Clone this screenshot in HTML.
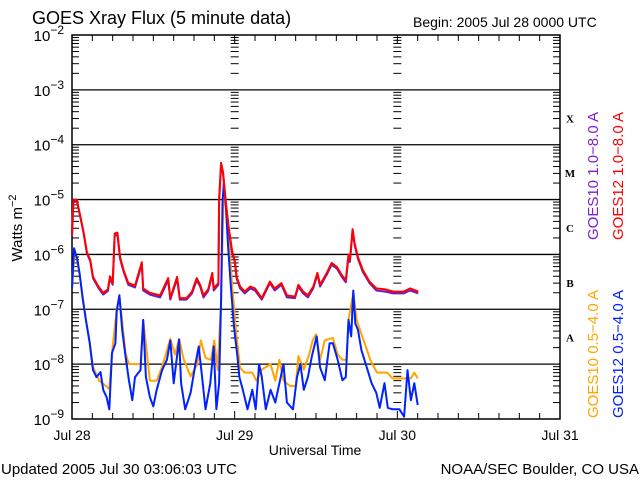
<!DOCTYPE html>
<html><head><meta charset="utf-8"><style>
body{margin:0;background:#fff;}
svg{display:block;font-family:"Liberation Sans",sans-serif;}
</style></head><body>
<svg id="chart" width="640" height="480" viewBox="0 0 640 480" xmlns="http://www.w3.org/2000/svg">
<rect width="640" height="480" fill="#fff"/>
<text x="32" y="24" font-size="18">GOES Xray Flux (5 minute data)</text>
<text x="413" y="27" font-size="14">Begin:  2005 Jul 28 0000 UTC</text>
<text transform="translate(22,228) rotate(-90)" text-anchor="middle" font-size="15">Watts m<tspan dy="-6" font-size="11">−2</tspan></text>
<text x="315" y="455" text-anchor="middle" font-size="14">Universal Time</text>
<text x="1" y="474" font-size="15">Updated 2005 Jul 30 03:06:03 UTC</text>
<text x="639" y="474" text-anchor="end" font-size="15">NOAA/SEC Boulder, CO USA</text>
<g id="axes"></g>
<g id="series"></g>
<g id="legend">
<text transform="translate(598,240) rotate(-90)" font-size="15" fill="#7b1fd0">GOES10 1.0−8.0 A</text>
<text transform="translate(623,240) rotate(-90)" font-size="15" fill="#ff0000">GOES12 1.0−8.0 A</text>
<text transform="translate(598,418) rotate(-90)" font-size="15" fill="#ffa500">GOES10 0.5−4.0 A</text>
<text transform="translate(623,418) rotate(-90)" font-size="15" fill="#0022ff">GOES12 0.5−4.0 A</text>
</g>
</svg>
<script>
const dayLabels = ["Jul 28","Jul 29","Jul 30","Jul 31"];
const decadeExps = [-9,-8,-7,-6,-5,-4,-3,-2];
const flareClasses = ["A","B","C","M","X"];
const redHours = [0,0.2,0.7,1.2,1.7,2.2,2.7,3.1,3.9,4.6,5.3,5.6,6.0,6.3,6.7,7.1,7.6,8.3,9.3,10.3,10.5,11.5,13,14.2,14.5,15.5,15.9,16.9,17.7,18.4,18.9,19.4,20.1,20.7,20.9,21.6,21.7,22.0,22.3,22.7,23.1,23.6,24.0,24.3,24.8,25.5,26.3,27,28,29.2,29.9,30.9,31.7,32.9,33.4,34.1,34.8,35.6,36.2,36.6,37.6,38.3,39.1,39.8,40.4,40.8,41,41.4,41.7,42.2,42.9,43.9,44.9,46.2,47.4,48.9,49.9,51.1];
const redFlux = [2.2e-6,1e-5,1e-5,5.2e-6,2.6e-6,1.1e-6,7.9e-7,3.9e-7,2.6e-7,2e-7,2.3e-7,4e-7,3e-7,2.4e-6,2.5e-6,8.9e-7,5.2e-7,3e-7,2.7e-7,7.2e-7,2.4e-7,2e-7,1.8e-7,3.7e-7,1.6e-7,3.9e-7,1.6e-7,1.6e-7,2.1e-7,3.7e-7,2.8e-7,1.8e-7,2.3e-7,4.6e-7,2.4e-7,3e-7,1e-5,4.7e-5,3.1e-5,8.7e-6,3.2e-6,1.2e-6,7.9e-7,3.9e-7,2.6e-7,2.1e-7,2.6e-7,2.4e-7,1.6e-7,3.2e-7,2.4e-7,3e-7,1.8e-7,1.7e-7,2.8e-7,2.1e-7,1.8e-7,2.6e-7,4.6e-7,2.8e-7,4.6e-7,7e-7,5.9e-7,4.2e-7,3.4e-7,9.8e-7,7.9e-7,2.9e-6,1.6e-6,8.9e-7,5.2e-7,3.2e-7,2.4e-7,2.3e-7,2.1e-7,2.1e-7,2.4e-7,2.1e-7];
const purpleHours = [0,0.2,0.7,1.2,1.7,2.2,2.7,3.1,3.9,4.6,5.3,5.6,6.0,6.3,6.7,7.1,7.6,8.3,9.3,10.3,10.5,11.5,13,14.2,14.5,15.5,15.9,16.9,17.7,18.4,18.9,19.4,20.1,20.7,20.9,21.6,21.7,22.0,22.3,22.7,23.1,23.6,24.0,24.3,24.8,25.5,26.3,27,28,29.2,29.9,30.9,31.7,32.9,33.4,34.1,34.8,35.6,36.2,36.6,37.6,38.3,39.1,39.8,40.4,40.8,41,41.4,41.7,42.2,42.9,43.9,44.9,46.2,47.4,48.9,49.9,51.1];
const purpleFlux = [2.1e-6,9.6e-6,9.6e-6,5e-6,2.5e-6,1.05e-6,7.5e-7,3.7e-7,2.45e-7,1.85e-7,2.15e-7,3.7e-7,2.8e-7,2.2e-6,2.3e-6,8.3e-7,4.9e-7,2.8e-7,2.5e-7,6.6e-7,2.2e-7,1.85e-7,1.65e-7,3.4e-7,1.5e-7,3.6e-7,1.5e-7,1.5e-7,1.95e-7,3.4e-7,2.6e-7,1.65e-7,2.15e-7,4.3e-7,2.2e-7,2.8e-7,9.5e-6,4.4e-5,2.9e-5,8.2e-6,3e-6,1.1e-6,7.4e-7,3.6e-7,2.4e-7,1.95e-7,2.4e-7,2.2e-7,1.5e-7,3e-7,2.2e-7,2.8e-7,1.65e-7,1.6e-7,2.6e-7,1.95e-7,1.65e-7,2.4e-7,4.3e-7,2.6e-7,4.3e-7,6.5e-7,5.5e-7,3.9e-7,3.1e-7,9.1e-7,7.3e-7,2.7e-6,1.5e-6,8.3e-7,4.8e-7,3e-7,2.2e-7,2.1e-7,1.95e-7,1.95e-7,2.2e-7,1.95e-7];
const blueHours = [0,0.3,0.8,1.1,1.6,2.1,2.6,3.1,3.6,4.2,4.6,5.1,5.5,5.9,6.4,6.6,7.0,7.4,7.9,8.4,8.9,9.3,10.1,10.5,10.9,11.5,12,12.5,13.3,14,14.5,15,15.8,16.1,16.7,17.5,18.2,18.7,19.2,19.7,20.4,20.9,21.3,21.7,22,22.2,22.4,22.7,23,23.4,23.9,24.4,24.7,25.2,25.9,26.6,27.1,27.6,28,28.6,29.3,30,30.6,31.2,31.7,32.6,33.2,33.7,34.2,34.8,35.4,36.1,36.6,37.3,38,38.5,39.2,39.9,40.4,40.8,41.2,41.5,41.8,42.2,42.7,43.5,44.2,44.9,45.4,46.1,46.6,47.3,48.3,49,49.5,50,50.5,51];
const blueFlux = [2.4e-7,1.3e-6,7.9e-7,4.6e-7,1.5e-7,5.9e-8,2.5e-8,7.8e-9,5.8e-9,7.2e-9,3.4e-9,2.5e-9,1.5e-9,1.6e-8,2.4e-8,9.1e-8,1.8e-7,4.2e-8,1.4e-8,5.1e-9,2.2e-9,5.8e-9,7.8e-9,6.4e-8,5.8e-9,2.5e-9,1.7e-9,3.4e-9,7.8e-9,1.2e-8,2.7e-8,4.5e-9,2.8e-8,4.5e-9,1.5e-9,3e-9,1e-8,2.1e-8,5.8e-9,1.5e-9,4.5e-9,2.1e-8,1.5e-9,4.5e-9,1.5e-7,8.7e-6,2e-5,7.4e-6,1.6e-6,3e-7,4.8e-8,1.4e-8,5.8e-9,3.4e-9,1.5e-9,3.4e-9,1.5e-9,1e-8,5.8e-9,1.5e-9,3.4e-9,2e-9,4.5e-9,1e-8,2e-9,1.5e-9,5.8e-9,1e-8,3.4e-9,5.8e-9,1.4e-8,3.2e-8,8.7e-9,5.1e-9,2.4e-8,2.4e-8,1.2e-8,5.1e-9,5.8e-9,6.4e-8,3.2e-8,2.2e-7,5.5e-8,4.2e-8,1.8e-8,8.7e-9,4.5e-9,3e-9,1.6e-9,4.5e-9,1.6e-9,1.5e-9,1.5e-9,1.1e-9,7.8e-9,2.2e-9,4.5e-9,1.8e-9];
const orangeHours = [0,0.4,1.1,2.1,2.6,3.1,4.0,5,5.5,5.9,6.6,7.0,7.9,8.4,9.3,10.1,10.5,11.5,12.5,13.3,14.5,15.2,15.8,16.5,17.5,18.5,19,19.7,20.5,21,21.5,22,22.4,22.7,23.2,23.6,24.2,24.8,25.5,26.6,27.2,28,29.3,30,30.6,31.2,32.2,33,33.4,34.2,35,35.5,36,36.6,37.3,38,38.5,39.2,39.9,40.5,40.8,41.5,42,42.7,43.4,44,45,46.5,47.3,49,50,50.5,51];
const orangeFlux = [2.4e-7,1.2e-6,4.6e-7,6e-8,2.6e-8,9e-9,5e-9,4e-9,3.5e-9,1.6e-8,1e-7,1.8e-7,1.6e-8,1e-8,1e-8,1e-8,6.4e-8,5e-9,5e-9,9e-9,2.9e-8,1.5e-8,2.9e-8,1.2e-8,6e-9,1e-8,2.7e-8,1.3e-8,1.2e-8,2.7e-8,7.8e-9,1.5e-7,1.9e-5,7e-6,1.6e-6,3e-7,4e-8,8.5e-9,7e-9,7e-9,5e-9,8e-9,1e-8,5e-9,1.2e-8,5e-9,4e-9,4e-9,1.4e-8,8e-9,1.5e-8,2.7e-8,3.5e-8,1.2e-8,2.7e-8,2.9e-8,3e-8,1.5e-8,1.2e-8,1.2e-8,6.4e-8,2e-7,6.4e-8,3.5e-8,2e-8,1.2e-8,7e-9,7e-9,5.5e-9,5.5e-9,5.5e-9,7e-9,5.5e-9];

const X0=72, X1=560, Y0=35, Y1=419;
const NS="http://www.w3.org/2000/svg";
function xScale(h){return X0+(X1-X0)*h/72;}
function yScale(v){return Y1-(Math.log10(v)+9)*(Y1-Y0)/7;}
function mk(tag,attrs,parent){const e=document.createElementNS(NS,tag);for(const k in attrs)e.setAttribute(k,attrs[k]);parent.appendChild(e);return e;}
const axes=document.getElementById('axes');
const series=document.getElementById('series');

decadeExps.forEach(function(ex){
  const y=yScale(Math.pow(10,ex));
  if(ex>-9&&ex<-2){
    const g=mk('line',{x1:X0,x2:X1,y1:y,y2:y,stroke:'#000','stroke-width':1.3},axes);
    
    
  }
  const t=mk('text',{x:64,y:y+6,'text-anchor':'end','font-size':15},axes);
  
  
  t.innerHTML='10<tspan dy="-7" font-size="12">−'+(-ex)+'</tspan>';
  if(ex<-2){
    for(let m=2;m<=9;m++){
      const ym=yScale(m*Math.pow(10,ex));
      mk('line',{x1:X0,x2:X0+7,y1:ym,y2:ym,stroke:'#000'},axes);
      mk('line',{x1:X1-7,x2:X1,y1:ym,y2:ym,stroke:'#000'},axes);
      [1,2].forEach(function(d){const xd=xScale(24*d);mk('line',{x1:xd-4,x2:xd+4,y1:ym,y2:ym,stroke:'#000'},axes);});
    }
  }
});
flareClasses.forEach(function(c,i){
  const y=(yScale(Math.pow(10,-8+i))+yScale(Math.pow(10,-7+i)))/2;
  const t=mk('text',{x:570,y:y+5,'text-anchor':'middle','font-size':11,'font-weight':'bold','font-family':'Liberation Serif, serif'},axes);
  
  
  t.textContent=c;
});
for(let h=0;h<=72;h+=3){
  const x=xScale(h);
  const len=(h%24===0)?8:6;
  mk('line',{x1:x,x2:x,y1:Y1,y2:Y1-len,stroke:'#000'},axes);
  mk('line',{x1:x,x2:x,y1:Y0,y2:Y0+len,stroke:'#000'},axes);
}
dayLabels.forEach(function(d,i){
  const t=mk('text',{x:xScale(24*i),y:440,'text-anchor':'middle','font-size':14},axes);
  
  
  t.textContent=d;
});
const frame=mk('rect',{x:X0,y:Y0,width:X1-X0,height:Y1-Y0,fill:'none',stroke:'#000','stroke-width':1.5},axes);



function drawLine(hours,flux,color,name){
  let d='';
  for(let i=0;i<hours.length;i++){
    const v=Math.max(flux[i],1e-9);
    d+=(i?'L':'M')+xScale(hours[i]).toFixed(1)+','+yScale(v).toFixed(1);
  }
  const p=mk('path',{d:d,fill:'none',stroke:color,'stroke-width':2,'stroke-linejoin':'round'},series);
  
  
}
drawLine(orangeHours,orangeFlux,'#ffa500','series-goes10-short');
drawLine(blueHours,blueFlux,'#0022ff','series-goes12-short');
drawLine(purpleHours,purpleFlux,'#6a1fc0','series-goes10-long');
drawLine(redHours,redFlux,'#ff0000','series-goes12-long');
</script>
</body></html>
